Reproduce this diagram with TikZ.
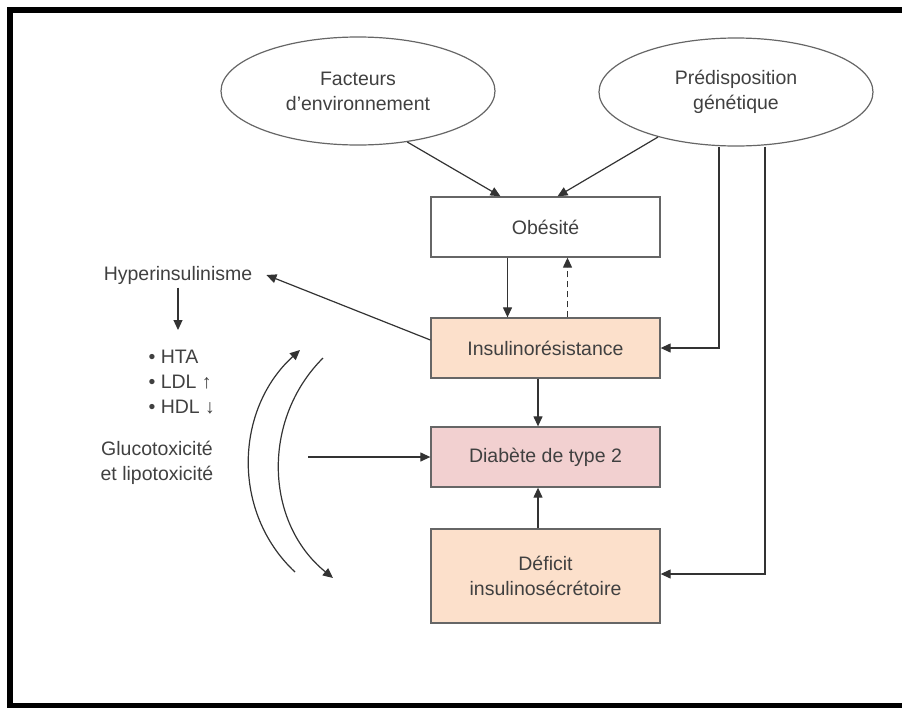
\documentclass[tikz,border=0pt]{standalone}
\usepackage{fontspec}
\setmainfont{Liberation Sans}
\usetikzlibrary{shapes.geometric,arrows.meta}

\definecolor{peach}{HTML}{FCE0CB}
\definecolor{rosy}{HTML}{F2D0D0}
\definecolor{ink}{HTML}{404040}

\begin{document}
\begin{tikzpicture}[x=1pt,y=-1pt,
    every node/.style={text=ink,font=\fontsize{19.5}{25}\selectfont},
    bulle/.style={draw=black!60,line width=1.2pt,ellipse,minimum width=274pt,minimum height=108pt,inner sep=0pt,align=center},
    boite/.style={draw=black!60,line width=1.3pt,minimum width=229pt,minimum height=60pt,align=center},
    fleche/.style={draw=black!80,line width=1.2pt,-{Triangle[length=10pt,width=9pt]}}]

  \clip (0,0) rectangle (902,707);
  \draw[line width=6pt] (9.5,9.5) rectangle (930,705.5);

  % ellipses du haut
  \node[bulle] (env) at (358,91) {Facteurs\\d’environnement};
  \node[bulle] (gen) at (736,92) {Prédisposition\\génétique};

  % boites centrales
  \node[boite] (obes) at (545.5,227) {Obésité};
  \node[boite,fill=peach] (insr) at (545.5,348) {Insulinorésistance};
  \node[boite,fill=rosy] (diab) at (545.5,457) {Diabète de type 2};
  \node[boite,fill=peach,minimum height=94pt] (defi) at (545.5,576) {Déficit\\insulinosécrétoire};

  % textes de gauche
  \node[inner xsep=14pt] (hyper) at (178,275) {Hyperinsulinisme};
  \node[align=left,inner ysep=20pt,anchor=north west] (lipid) at (145,330) {• HTA\\• LDL ↑\\• HDL ↓};
  \node[align=center] (toxi) at (157,463) {Glucotoxicité\\et lipotoxicité};
  \coordinate (toxi-fin) at (308,457);

  \draw[fleche] (env.-46) -- ([xshift=-45pt]obes.north);
  \draw[fleche] (gen.210) -- ([xshift=12pt]obes.north);
  \draw[fleche] ([xshift=-38pt]obes.south) -- ([xshift=-38pt]insr.north);
  \draw[fleche,dash pattern=on 6pt off 4pt] ([xshift=22pt]insr.north) -- ([xshift=22pt]obes.south);
  \draw[fleche] ([xshift=-17pt]gen.south) |- (insr.east);
  \draw[fleche] ([xshift=29pt]gen.south) |- ([yshift=2pt]defi.east);
  \draw[fleche] ([xshift=-7.5pt]insr.south) -- ([xshift=-7.5pt]diab.north);
  \draw[fleche] ([xshift=-7.5pt]defi.north) -- ([xshift=-7.5pt]diab.south);
  \draw[fleche] ([yshift=8pt]insr.west) -- (hyper.east);
  \draw[fleche] (hyper.south) -- (hyper.south |- lipid.north);
  \draw[fleche] (toxi-fin) -- (diab.west);

  % fleches courbes
  \draw[fleche] (295,572) .. controls (231,512) and (235,409) .. (300,350);
  \draw[fleche] (323,358) .. controls (261,420) and (265,523) .. (333,578);
\end{tikzpicture}
\end{document}
